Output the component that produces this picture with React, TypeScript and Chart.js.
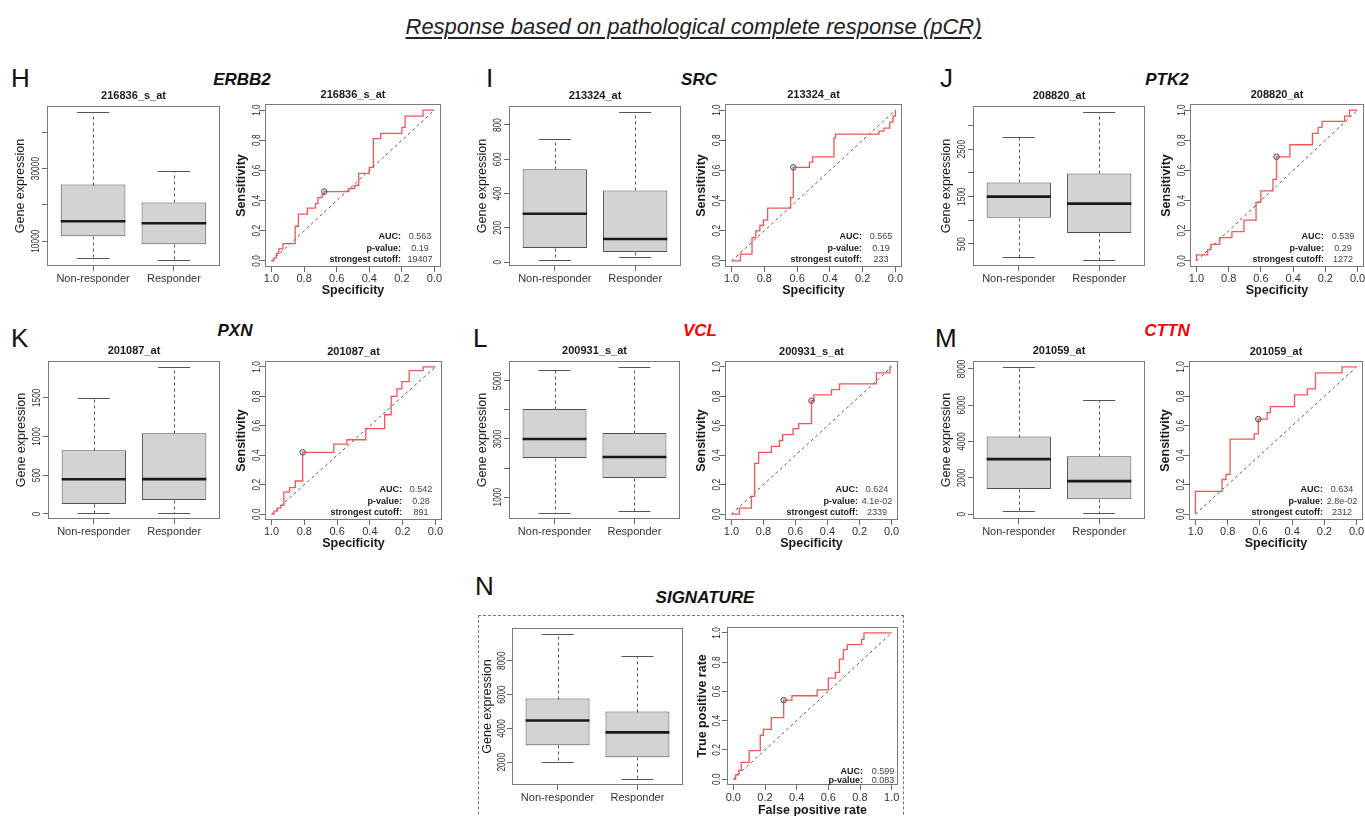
import React, { useEffect, useRef } from "react";
import { Chart, registerables } from "chart.js";

Chart.register(...registerables);

const FONT = "'Liberation Sans', Arial, Helvetica, sans-serif";
const FRAME = "#7a7a7a";
const TICK = "#6a6a6a";
const RED = "rgb(244, 86, 86)";

// ---------- shared categories / tick labels ----------
const groups = ["Non-responder", "Responder"];
const groupPos = [1, 2];
const rocTicks = [0, 0.2, 0.4, 0.6, 0.8, 1.0];
const rocTickLabels = ["0.0", "0.2", "0.4", "0.6", "0.8", "1.0"];
const chanceX = [1, 0];
const chanceY = [0, 1];
const statLabels3 = ["AUC:", "p-value:", "strongest cutoff:"];
const statLabels2 = ["AUC:", "p-value:"];

// ---------- ERBB2 / 216836_s_at ----------
// box stats: lower whisker, Q1, median, Q3, upper whisker
const erbb2NR = [5340, 11370, 15480, 25600, 45600];
const erbb2R = [4800, 9180, 14930, 20680, 29450];
const erbb2Ticks = [10000, 20000, 30000, 40000];
const erbb2TickLabels = ["10000", "", "30000", ""];
const erbb2Spec = [1, 0.985, 0.97, 0.955, 0.93, 0.855, 0.835, 0.78, 0.73, 0.715, 0.69, 0.676, 0.525, 0.49, 0.465, 0.4, 0.375, 0.33, 0.2, 0.18, 0.07, 0];
const erbb2Sens = [0, 0.02, 0.05, 0.08, 0.115, 0.23, 0.31, 0.35, 0.38, 0.42, 0.44, 0.46, 0.48, 0.5, 0.58, 0.62, 0.81, 0.845, 0.885, 0.96, 1, 1];
const erbb2Best = [0.676, 0.46];
const erbb2Stats = ["0.563", "0.19", "19407"];

// ---------- SRC / 213324_at ----------
const srcNR = [12, 82, 282, 541, 718];
const srcR = [29, 59, 135, 418, 876];
const srcTicks = [0, 200, 400, 600, 800];
const srcTickLabels = ["0", "200", "400", "600", "800"];
const srcSpec = [1, 0.946, 0.875, 0.852, 0.827, 0.806, 0.78, 0.64, 0.623, 0.525, 0.505, 0.375, 0.365, 0.1, 0.07, 0.035, 0.015, 0];
const srcSens = [0, 0.045, 0.155, 0.2, 0.235, 0.27, 0.35, 0.42, 0.62, 0.655, 0.69, 0.815, 0.84, 0.86, 0.88, 0.92, 0.96, 1];
const srcBest = [0.623, 0.62];
const srcStats = ["0.565", "0.19", "233"];

// ---------- PTK2 / 208820_at ----------
const ptk2NR = [223, 1053, 1500, 1798, 2755];
const ptk2R = [160, 734, 1351, 1989, 3287];
const ptk2Ticks = [500, 1000, 1500, 2000, 2500, 3000];
const ptk2TickLabels = ["500", "", "1500", "", "2500", ""];
const ptk2Spec = [1, 1, 0.93, 0.91, 0.855, 0.78, 0.705, 0.63, 0.6, 0.525, 0.503, 0.42, 0.28, 0.245, 0.22, 0.08, 0.05, 0];
const ptk2Sens = [0, 0.04, 0.075, 0.11, 0.155, 0.195, 0.27, 0.39, 0.465, 0.54, 0.69, 0.77, 0.845, 0.885, 0.925, 0.96, 1, 1];
const ptk2Best = [0.503, 0.69];
const ptk2Stats = ["0.539", "0.29", "1272"];

// ---------- PXN / 201087_at ----------
const pxnNR = [10, 129, 448, 823, 1500];
const pxnR = [13, 181, 450, 1043, 1900];
const pxnTicks = [0, 500, 1000, 1500];
const pxnTickLabels = ["0", "500", "1000", "1500"];
const pxnSpec = [1, 0.985, 0.965, 0.945, 0.925, 0.89, 0.855, 0.81, 0.62, 0.54, 0.425, 0.31, 0.27, 0.235, 0.205, 0.16, 0.075, 0];
const pxnSens = [0, 0.02, 0.04, 0.06, 0.15, 0.18, 0.225, 0.42, 0.475, 0.505, 0.58, 0.675, 0.8, 0.85, 0.9, 0.975, 1, 1];
const pxnBest = [0.81, 0.42];
const pxnStats = ["0.542", "0.28", "891"];

// ---------- VCL / 200931_s_at ----------
const vclNR = [448, 2345, 3000, 4034, 5379];
const vclR = [517, 1655, 2379, 3207, 5483];
const vclTicks = [1000, 2000, 3000, 4000, 5000];
const vclTickLabels = ["1000", "", "3000", "", "5000"];
const vclSpec = [1, 0.95, 0.875, 0.855, 0.83, 0.75, 0.7, 0.68, 0.615, 0.58, 0.5, 0.485, 0.375, 0.325, 0.095, 0.01, 0];
const vclSens = [0, 0.04, 0.12, 0.345, 0.42, 0.46, 0.5, 0.54, 0.58, 0.615, 0.77, 0.81, 0.845, 0.885, 0.96, 1, 1];
const vclBest = [0.5, 0.77];
const vclStats = ["0.624", "4.1e-02", "2339"];

// ---------- CTTN / 201059_at ----------
const cttnNR = [165, 1380, 3030, 4275, 8110];
const cttnR = [55, 825, 1820, 3190, 6280];
const cttnTicks = [0, 2000, 4000, 6000, 8000];
const cttnTickLabels = ["0", "2000", "4000", "6000", "8000"];
const cttnSpec = [1, 1, 0.835, 0.81, 0.785, 0.635, 0.61, 0.555, 0.535, 0.385, 0.305, 0.255, 0.09, 0];
const cttnSens = [0, 0.155, 0.235, 0.27, 0.51, 0.545, 0.645, 0.69, 0.73, 0.81, 0.85, 0.96, 1, 1];
const cttnBest = [0.61, 0.645];
const cttnStats = ["0.634", "2.8e-02", "2312"];

// ---------- SIGNATURE ----------
const sigNR = [2000, 3000, 4470, 5765, 9588];
const sigR = [1000, 2294, 3765, 4994, 8294];
const sigTicks = [2000, 4000, 6000, 8000];
const sigTickLabels = ["2000", "4000", "6000", "8000"];
const sigFpr = [0, 0.015, 0.035, 0.05, 0.1, 0.17, 0.19, 0.24, 0.318, 0.37, 0.53, 0.6, 0.645, 0.67, 0.695, 0.72, 0.81, 0.825, 1];
const sigTpr = [0, 0.03, 0.06, 0.115, 0.195, 0.3, 0.34, 0.42, 0.54, 0.57, 0.61, 0.69, 0.73, 0.82, 0.885, 0.92, 0.955, 1, 1];
const sigBest = [0.318, 0.54];
const sigStats = ["0.599", "0.083"];

// ---------- layout ----------
type Area = { l: number; t: number; r: number; b: number };
const PAD_L = 44;
const PAD_T = 22;
const PAD_R = 14;
const PAD_B = 36;

type Panel = {
  letter: string; letterX: number; letterY: number;
  gene: string; geneColor: string; geneX: number; geneY: number;
  probe?: string;
  nr: number[]; r: number[]; yTicks: number[]; yTickLabels: string[];
  xs: number[]; ys: number[]; best: number[]; statLabels: string[]; stats: string[];
  box: Area; roc: Area; signature?: boolean;
};

const panels: Panel[] = [
  { letter: "H", letterX: 11, letterY: 77.5, gene: "ERBB2", geneColor: "#111", geneX: 242, geneY: 79, probe: "216836_s_at",
    nr: erbb2NR, r: erbb2R, yTicks: erbb2Ticks, yTickLabels: erbb2TickLabels, xs: erbb2Spec, ys: erbb2Sens, best: erbb2Best,
    statLabels: statLabels3, stats: erbb2Stats, box: { l: 47, t: 106, r: 220, b: 266 }, roc: { l: 265, t: 104, r: 441, b: 267 } },
  { letter: "I", letterX: 486, letterY: 77.5, gene: "SRC", geneColor: "#111", geneX: 699, geneY: 79, probe: "213324_at",
    nr: srcNR, r: srcR, yTicks: srcTicks, yTickLabels: srcTickLabels, xs: srcSpec, ys: srcSens, best: srcBest,
    statLabels: statLabels3, stats: srcStats, box: { l: 509, t: 106, r: 681, b: 266 }, roc: { l: 725, t: 104, r: 902, b: 267 } },
  { letter: "J", letterX: 940, letterY: 77.5, gene: "PTK2", geneColor: "#111", geneX: 1167, geneY: 79, probe: "208820_at",
    nr: ptk2NR, r: ptk2R, yTicks: ptk2Ticks, yTickLabels: ptk2TickLabels, xs: ptk2Spec, ys: ptk2Sens, best: ptk2Best,
    statLabels: statLabels3, stats: ptk2Stats, box: { l: 973, t: 106, r: 1145, b: 266 }, roc: { l: 1190, t: 104, r: 1364, b: 267 } },
  { letter: "K", letterX: 11, letterY: 337.5, gene: "PXN", geneColor: "#111", geneX: 235, geneY: 330, probe: "201087_at",
    nr: pxnNR, r: pxnR, yTicks: pxnTicks, yTickLabels: pxnTickLabels, xs: pxnSpec, ys: pxnSens, best: pxnBest,
    statLabels: statLabels3, stats: pxnStats, box: { l: 48, t: 361, r: 220, b: 519 }, roc: { l: 265, t: 361, r: 442, b: 520 } },
  { letter: "L", letterX: 473, letterY: 337.5, gene: "VCL", geneColor: "#ff0000", geneX: 700, geneY: 330, probe: "200931_s_at",
    nr: vclNR, r: vclR, yTicks: vclTicks, yTickLabels: vclTickLabels, xs: vclSpec, ys: vclSens, best: vclBest,
    statLabels: statLabels3, stats: vclStats, box: { l: 509, t: 361, r: 680, b: 519 }, roc: { l: 725, t: 361, r: 898, b: 520 } },
  { letter: "M", letterX: 935, letterY: 337.5, gene: "CTTN", geneColor: "#ff0000", geneX: 1167, geneY: 330, probe: "201059_at",
    nr: cttnNR, r: cttnR, yTicks: cttnTicks, yTickLabels: cttnTickLabels, xs: cttnSpec, ys: cttnSens, best: cttnBest,
    statLabels: statLabels3, stats: cttnStats, box: { l: 973, t: 361, r: 1145, b: 519 }, roc: { l: 1189, t: 361, r: 1363, b: 520 } },
  { letter: "N", letterX: 475, letterY: 586, gene: "SIGNATURE", geneColor: "#111", geneX: 705, geneY: 597,
    nr: sigNR, r: sigR, yTicks: sigTicks, yTickLabels: sigTickLabels, xs: sigFpr, ys: sigTpr, best: sigBest,
    statLabels: statLabels2, stats: sigStats, box: { l: 512, t: 628, r: 683, b: 785 }, roc: { l: 727, t: 627, r: 898, b: 785 }, signature: true },
];

// ---------- drawing helpers ----------
function capText(ctx: CanvasRenderingContext2D, text: string, x: number, y: number, font: string, size: number,
  color: string, align: CanvasTextAlign, rotate = false, scale = 1) {
  ctx.save();
  ctx.font = font;
  ctx.fillStyle = color;
  ctx.textAlign = align;
  ctx.textBaseline = "alphabetic";
  ctx.translate(x, y);
  if (rotate) ctx.rotate(-Math.PI / 2);
  ctx.scale(scale, 1);
  ctx.fillText(text, 0, size * 0.358);
  ctx.restore();
}

type Decor = {
  title?: string; titleDy: number;
  yTicks: number[]; yTickLabels: string[]; yTickDx: number;
  yTitle: string; yTitleBold: boolean; yTitleDx: number;
  xTitle?: string; xTitleDy?: number;
  statLabels?: string[]; statValues?: string[]; statDx?: number[]; statRows?: number[];
};

function decorPlugin(d: Decor) {
  return {
    id: "decor",
    afterDraw(chart: any) {
      const ctx: CanvasRenderingContext2D = chart.ctx;
      const a = chart.chartArea;
      const ys = chart.scales.y;
      const cx = (a.left + a.right) / 2;
      ctx.save();
      ctx.strokeStyle = FRAME;
      ctx.lineWidth = 1;
      ctx.strokeRect(Math.round(a.left) + 0.5, Math.round(a.top) + 0.5, Math.round(a.right - a.left) - 1, Math.round(a.bottom - a.top) - 1);
      ctx.restore();
      if (d.title) capText(ctx, d.title, cx, a.top + d.titleDy, `bold 11px ${FONT}`, 11, "#1a1a1a", "center");
      d.yTicks.forEach((v, i) => {
        const lab = d.yTickLabels[i];
        if (!lab) return;
        capText(ctx, lab, a.left + d.yTickDx, ys.getPixelForValue(v), `11px ${FONT}`, 11, "#2a2a2a", "center", true, 0.76);
      });
      capText(ctx, d.yTitle, a.left + d.yTitleDx, (a.top + a.bottom) / 2,
        `${d.yTitleBold ? "bold " : ""}12.5px ${FONT}`, 12.5, "#1a1a1a", "center", true);
      if (d.xTitle) capText(ctx, d.xTitle, cx, a.bottom + (d.xTitleDy || 0), `bold 12.5px ${FONT}`, 12.5, "#1a1a1a", "center");
      if (d.statLabels && d.statValues && d.statDx && d.statRows) {
        d.statLabels.forEach((lab, i) => {
          const y = a.bottom - d.statRows![i];
          capText(ctx, lab, a.right - d.statDx![0], y, `bold 9px ${FONT}`, 9, "#1a1a1a", "right");
          capText(ctx, d.statValues![i], a.right - d.statDx![1], y, `9px ${FONT}`, 9, "#444", "center");
        });
      }
    },
  };
}

function boxPlugin(stats: number[][]) {
  return {
    id: "boxExtras",
    afterDatasetsDraw(chart: any) {
      const meta = chart.getDatasetMeta(0);
      const y = chart.scales.y;
      const ctx: CanvasRenderingContext2D = chart.ctx;
      meta.data.forEach((el: any, i: number) => {
        const [lo, q1, med, q3, hi] = stats[i];
        const x = el.x;
        const w = el.width;
        const xc = Math.round(x) + 0.5;
        const py = (v: number) => Math.round(y.getPixelForValue(v)) + 0.5;
        ctx.save();
        ctx.strokeStyle = "#555";
        ctx.lineWidth = 1;
        ctx.setLineDash([3, 3]);
        ctx.beginPath();
        ctx.moveTo(xc, py(q3)); ctx.lineTo(xc, py(hi));
        ctx.moveTo(xc, py(q1)); ctx.lineTo(xc, py(lo));
        ctx.stroke();
        ctx.setLineDash([]);
        ctx.beginPath();
        ctx.moveTo(x - w / 4, py(hi)); ctx.lineTo(x + w / 4, py(hi));
        ctx.moveTo(x - w / 4, py(lo)); ctx.lineTo(x + w / 4, py(lo));
        ctx.stroke();
        ctx.strokeStyle = "#1a1a1a";
        ctx.lineWidth = 2.6;
        ctx.beginPath();
        ctx.moveTo(x - w / 2, y.getPixelForValue(med)); ctx.lineTo(x + w / 2, y.getPixelForValue(med));
        ctx.stroke();
        ctx.restore();
      });
    },
  };
}

const gridOpts = { display: true, drawOnChartArea: false, drawTicks: true, tickLength: 5, color: TICK, tickColor: TICK, lineWidth: 1, offset: false };

function baseOptions() {
  return {
    responsive: false,
    animation: false as const,
    devicePixelRatio: 1,
    layout: { padding: { left: 0, top: PAD_T, right: PAD_R, bottom: 0 } },
    plugins: { legend: { display: false }, tooltip: { enabled: false }, title: { display: false } },
  };
}

function boxConfig(p: Panel): any {
  const stats = [p.nr, p.r];
  const all = [...p.nr, ...p.r];
  const lo = Math.min(...all);
  const hi = Math.max(...all);
  const pad = (hi - lo) * 0.04;
  return {
    type: "bar",
    data: {
      datasets: [{
        data: stats.map((s, i) => ({ x: groupPos[i], y: [s[1], s[3]] })),
        backgroundColor: "#d3d3d3",
        borderColor: "#505050",
        borderWidth: 1,
        borderSkipped: false,
        barPercentage: 0.8,
        categoryPercentage: 1,
      }],
    },
    options: {
      ...baseOptions(),
      scales: {
        x: {
          type: "linear", min: 0.43, max: 2.57, offset: false,
          afterBuildTicks: (ax: any) => { ax.ticks = groupPos.map((v) => ({ value: v })); },
          afterFit: (ax: any) => { ax.height = PAD_B; },
          grid: gridOpts, border: { display: false },
          ticks: { autoSkip: false, maxRotation: 0, minRotation: 0, padding: 1, color: "#333", font: { family: FONT, size: 11 },
            callback: (_v: any, i: number) => groups[i] },
        },
        y: {
          type: "linear", min: lo - pad, max: hi + pad, beginAtZero: false,
          afterBuildTicks: (ax: any) => { ax.ticks = p.yTicks.map((v) => ({ value: v })); },
          afterFit: (ax: any) => { ax.width = PAD_L; },
          grid: gridOpts, border: { display: false },
          ticks: { display: false },
        },
      },
    },
    plugins: [
      boxPlugin(stats),
      decorPlugin({
        title: p.probe, titleDy: -11,
        yTicks: p.yTicks, yTickLabels: p.yTickLabels, yTickDx: p.signature ? -10.5 : -11.5,
        yTitle: "Gene expression", yTitleBold: false, yTitleDx: p.signature ? -25 : -27,
      }),
    ],
  };
}

function rocConfig(p: Panel): any {
  const sig = !!p.signature;
  return {
    type: "line",
    data: {
      datasets: [
        { data: [{ x: p.best[0], y: p.best[1] }], showLine: false, pointRadius: 2.8, pointBorderWidth: 1,
          pointBorderColor: "#555", pointBackgroundColor: "rgba(120,120,120,0.25)", order: 0 },
        { data: p.xs.map((x, i) => ({ x, y: p.ys[i] })), stepped: "before", borderColor: RED, borderWidth: 1.3,
          pointRadius: 0, fill: false, order: 1 },
        { data: chanceX.map((x, i) => ({ x: sig ? 1 - x : x, y: chanceY[i] })), borderColor: "#5a5a5a",
          borderWidth: 1, borderDash: [3, 3], pointRadius: 0, fill: false, order: 2 },
      ],
    },
    options: {
      ...baseOptions(),
      scales: {
        x: {
          type: "linear", min: -0.04, max: 1.04, reverse: !sig,
          afterBuildTicks: (ax: any) => { ax.ticks = rocTicks.map((v) => ({ value: v })); },
          afterFit: (ax: any) => { ax.height = PAD_B; },
          grid: gridOpts, border: { display: false },
          ticks: { autoSkip: false, maxRotation: 0, minRotation: 0, padding: sig ? 1 : 0, color: "#333", font: { family: FONT, size: 11 },
            callback: (_v: any, i: number) => rocTickLabels[i] },
        },
        y: {
          type: "linear", min: -0.04, max: 1.04,
          afterBuildTicks: (ax: any) => { ax.ticks = rocTicks.map((v) => ({ value: v })); },
          afterFit: (ax: any) => { ax.width = PAD_L; },
          grid: gridOpts, border: { display: false },
          ticks: { display: false },
        },
      },
    },
    plugins: [
      decorPlugin({
        title: p.probe, titleDy: -10,
        yTicks: rocTicks, yTickLabels: rocTickLabels, yTickDx: sig ? -10.5 : -8.5,
        yTitle: sig ? "True positive rate" : "Sensitivity", yTitleBold: true, yTitleDx: sig ? -25 : -24,
        xTitle: sig ? "False positive rate" : "Specificity", xTitleDy: sig ? 25 : 23,
        statLabels: p.statLabels, statValues: p.stats,
        statDx: sig ? [35, 15] : [40, 21], statRows: sig ? [14, 5] : [31, 19.5, 8],
      }),
    ],
  };
}

function ChartCanvas({ area, build }: { area: Area; build: () => any }) {
  const ref = useRef<HTMLCanvasElement | null>(null);
  const w = area.r - area.l + PAD_L + PAD_R;
  const h = area.b - area.t + PAD_T + PAD_B;
  useEffect(() => {
    if (!ref.current) return;
    const chart = new Chart(ref.current, build());
    return () => chart.destroy();
  }, []);
  return (
    <canvas ref={ref} width={w} height={h}
      style={{ position: "absolute", left: area.l - PAD_L, top: area.t - PAD_T, width: w, height: h }} />
  );
}

function Txt({ x, y, size, children, align = "center", style = {} }:
  { x: number; y: number; size: number; children: React.ReactNode; align?: "center" | "left"; style?: React.CSSProperties }) {
  return (
    <div style={{
      position: "absolute", top: y - size / 2, left: x, fontSize: size, lineHeight: `${size}px`, whiteSpace: "nowrap",
      transform: align === "center" ? "translateX(-50%)" : undefined, fontFamily: FONT, ...style,
    }}>{children}</div>
  );
}

export default function App() {
  useEffect(() => {
    document.body.style.margin = "0";
  }, []);
  return (
    <div style={{ position: "fixed", left: 0, top: 0, width: 1365, height: 816, overflow: "hidden", background: "#fff" }}>
      <Txt x={693.5} y={27} size={22} style={{ fontStyle: "italic", color: "#222", textDecoration: "underline", textUnderlineOffset: "3px" }}>
        Response based on pathological complete response (pCR)
      </Txt>
      <div style={{ position: "absolute", left: 478, top: 615, width: 426, height: 260, border: "1px dashed #777", boxSizing: "border-box" }} />
      {panels.map((p) => (
        <React.Fragment key={p.letter}>
          <Txt x={p.letterX} y={p.letterY} size={26} align="left" style={{ color: "#111" }}>{p.letter}</Txt>
          <Txt x={p.geneX} y={p.geneY} size={17} style={{ fontWeight: "bold", fontStyle: "italic", color: p.geneColor }}>{p.gene}</Txt>
          <ChartCanvas area={p.box} build={() => boxConfig(p)} />
          <ChartCanvas area={p.roc} build={() => rocConfig(p)} />
        </React.Fragment>
      ))}
    </div>
  );
}
